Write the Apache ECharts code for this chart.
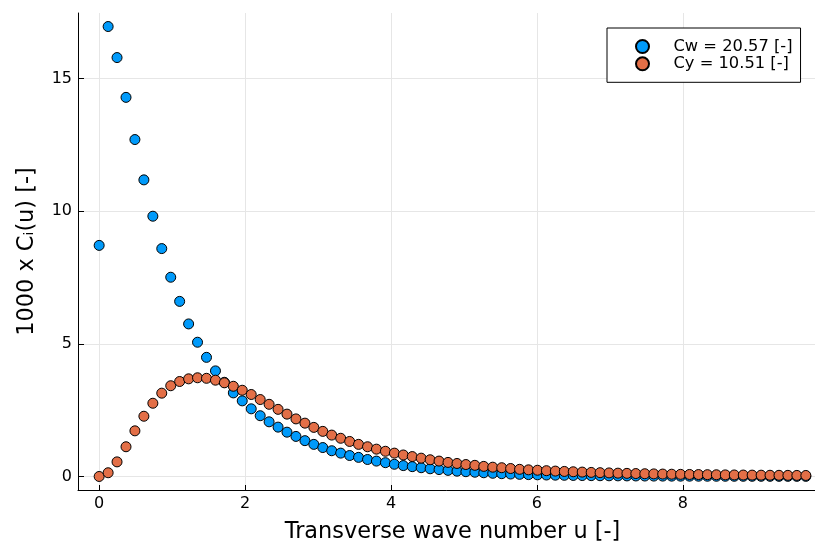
<!DOCTYPE html>
<html>
<head>
<meta charset="utf-8">
<script src="https://cdn.jsdelivr.net/npm/echarts@6/dist/echarts.min.js"></script>
<style>html,body{margin:0;padding:0;background:#fff;}#c{width:815px;height:544px;}</style>
</head>
<body>
<div id="c"></div>
<script>
var uValues = [0, 0.123, 0.245, 0.368, 0.490, 0.613, 0.736, 0.858, 0.981, 1.103,
  1.226, 1.348, 1.471, 1.594, 1.716, 1.839, 1.961, 2.084, 2.207, 2.329,
  2.452, 2.574, 2.697, 2.820, 2.942, 3.065, 3.187, 3.310, 3.433, 3.555,
  3.678, 3.800, 3.923, 4.046, 4.168, 4.291, 4.413, 4.536, 4.658, 4.781,
  4.904, 5.026, 5.149, 5.271, 5.394, 5.517, 5.639, 5.762, 5.884, 6.007,
  6.130, 6.252, 6.375, 6.497, 6.620, 6.743, 6.865, 6.988, 7.110, 7.233,
  7.355, 7.478, 7.601, 7.723, 7.846, 7.968, 8.091, 8.214, 8.336, 8.459,
  8.581, 8.704, 8.827, 8.949, 9.072, 9.194, 9.317, 9.439, 9.562, 9.685];

var cwValues = [8.71, 16.96, 15.79, 14.29, 12.70, 11.18, 9.81, 8.59, 7.51, 6.60,
  5.75, 5.06, 4.49, 3.98, 3.55, 3.15, 2.85, 2.55, 2.29, 2.06,
  1.86, 1.67, 1.51, 1.35, 1.21, 1.09, 0.97, 0.88, 0.79, 0.72,
  0.64, 0.58, 0.52, 0.46, 0.41, 0.37, 0.33, 0.29, 0.26, 0.23,
  0.20, 0.18, 0.16, 0.14, 0.12, 0.105, 0.092, 0.080, 0.070, 0.062,
  0.055, 0.049, 0.044, 0.039, 0.035, 0.031, 0.028, 0.025, 0.023, 0.021,
  0.019, 0.017, 0.015, 0.014, 0.013, 0.012, 0.011, 0.010, 0.009, 0.008,
  0.0075, 0.007, 0.0065, 0.006, 0.0055, 0.005, 0.0047, 0.0044, 0.0041, 0.0038];

var cyValues = [0, 0.14, 0.55, 1.12, 1.72, 2.27, 2.76, 3.14, 3.42, 3.58,
  3.68, 3.72, 3.70, 3.63, 3.53, 3.40, 3.25, 3.09, 2.90, 2.72,
  2.53, 2.35, 2.17, 2.01, 1.85, 1.70, 1.56, 1.44, 1.32, 1.21,
  1.12, 1.03, 0.95, 0.88, 0.81, 0.75, 0.69, 0.63, 0.58, 0.53,
  0.49, 0.45, 0.42, 0.38, 0.35, 0.33, 0.30, 0.27, 0.25, 0.235,
  0.218, 0.203, 0.19, 0.177, 0.165, 0.153, 0.143, 0.134, 0.125, 0.117,
  0.110, 0.103, 0.097, 0.091, 0.085, 0.080, 0.076, 0.072, 0.068, 0.064,
  0.060, 0.057, 0.054, 0.051, 0.049, 0.046, 0.044, 0.042, 0.040, 0.038];

var seriesNames = ['Cw = 20.57 [-]', 'Cy = 10.51 [-]'];
var xTicks = [0, 2, 4, 6, 8];
var yTicks = [0, 5, 10, 15];

function pairs(xs, ys) { return xs.map(function (x, i) { return [x, ys[i]]; }); }

var FONT = 'DejaVu Sans';
var chart = echarts.init(document.getElementById('c'), null, { renderer: 'canvas' });
chart.setOption({
  animation: false,
  backgroundColor: '#ffffff',
  grid: { left: 78, top: 13, width: 749, height: 477, containLabel: false, outerBoundsMode: 'none' },
  legend: {
    orient: 'vertical',
    left: 607, top: 28,
    padding: [10, 8, 10, 28],
    itemGap: 0.3,
    itemWidth: 52, itemHeight: 13,
    borderColor: '#000', borderWidth: 1, borderRadius: 0,
    backgroundColor: '#fff',
    icon: 'circle',
    textStyle: { fontFamily: FONT, fontSize: 16.3, lineHeight: 17, color: '#000' },
    data: seriesNames
  },
  xAxis: {
    type: 'value', min: -0.29, max: 9.975,
    name: 'Transverse wave number u [-]', nameLocation: 'middle', nameGap: 31,
    nameTextStyle: { fontFamily: FONT, fontSize: 22.4, color: '#000' },
    axisLine: { show: true, onZero: false, lineStyle: { color: '#000', width: 1 } },
    axisTick: { show: true, inside: true, length: 5, customValues: xTicks, lineStyle: { color: '#000' } },
    axisLabel: { customValues: xTicks, fontFamily: FONT, fontSize: 16, color: '#000', margin: 6 },
    splitLine: { show: true, lineStyle: { color: '#e6e6e6', width: 1 } }
  },
  yAxis: {
    type: 'value', min: -0.51, max: 17.47,
    name: '1000 x C\u1d62(u) [-]', nameLocation: 'middle', nameGap: 40, nameRotate: 90,
    nameTextStyle: { fontFamily: FONT, fontSize: 22.4, color: '#000' },
    axisLine: { show: true, onZero: false, lineStyle: { color: '#000', width: 1 } },
    axisTick: { show: true, inside: true, length: 6, customValues: yTicks, lineStyle: { color: '#000' } },
    axisLabel: { customValues: yTicks, fontFamily: FONT, fontSize: 16, color: '#000', margin: 6 },
    splitLine: { show: true, lineStyle: { color: '#e6e6e6', width: 1 } }
  },
  series: [
    {
      name: seriesNames[0], type: 'scatter', symbol: 'circle', symbolSize: 10,
      itemStyle: { color: '#009afa', borderColor: '#000', borderWidth: 1, opacity: 1 },
      data: pairs(uValues, cwValues)
    },
    {
      name: seriesNames[1], type: 'scatter', symbol: 'circle', symbolSize: 10,
      itemStyle: { color: '#e36f47', borderColor: '#000', borderWidth: 1, opacity: 1 },
      data: pairs(uValues, cyValues)
    }
  ]
});
</script>
</body>
</html>
